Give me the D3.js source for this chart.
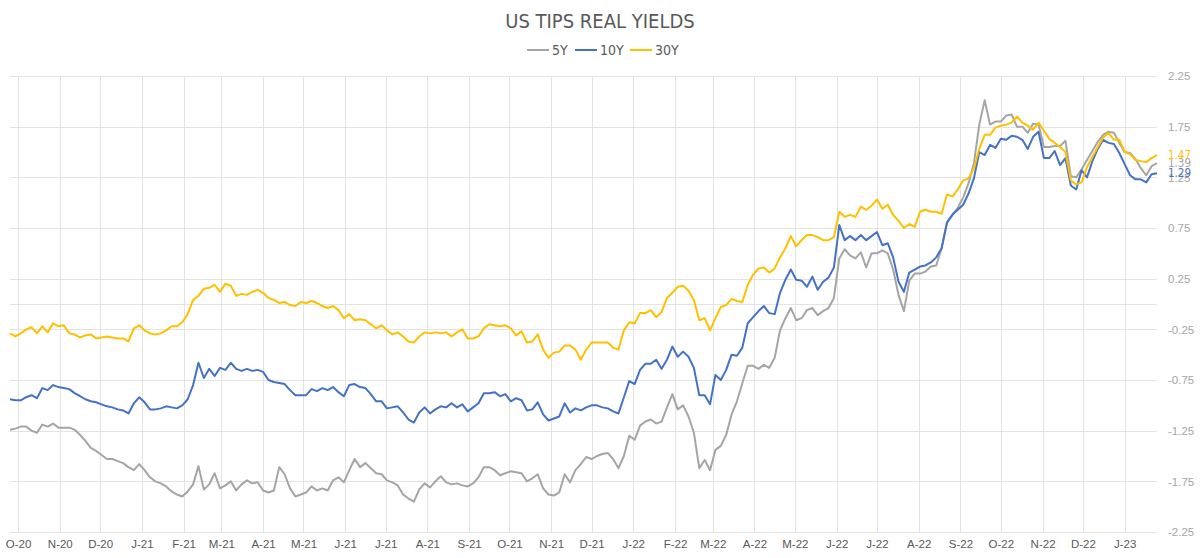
<!DOCTYPE html>
<html>
<head>
<meta charset="utf-8">
<script src="https://cdnjs.cloudflare.com/ajax/libs/d3/7.8.5/d3.min.js"></script>
<style>
  body { margin: 0; background: #fff; }
  svg { font-family: "Liberation Sans Narrow", "DejaVu Sans Condensed", Roboto, sans-serif; }
</style>
</head>
<body>
<svg id="chart" width="1200" height="558"></svg>
<script>
// one observation every 4 calendar days, starting 25 Sep 2020
var startDate = new Date(2020, 8, 25);
var stepDays = 4;

var series5Y = [
  -1.24,-1.23,-1.21,-1.21,-1.25,-1.27,-1.19,-1.21,-1.18,-1.22,
  -1.22,-1.22,-1.24,-1.29,-1.35,-1.42,-1.45,-1.49,-1.53,-1.53,
  -1.55,-1.57,-1.61,-1.64,-1.58,-1.64,-1.71,-1.75,-1.77,-1.80,
  -1.85,-1.88,-1.90,-1.85,-1.78,-1.60,-1.83,-1.78,-1.67,-1.82,
  -1.79,-1.75,-1.84,-1.78,-1.74,-1.77,-1.76,-1.84,-1.86,-1.84,
  -1.61,-1.68,-1.82,-1.90,-1.88,-1.86,-1.80,-1.84,-1.82,-1.84,
  -1.74,-1.71,-1.76,-1.64,-1.53,-1.61,-1.57,-1.62,-1.67,-1.68,
  -1.74,-1.76,-1.79,-1.88,-1.92,-1.95,-1.83,-1.77,-1.81,-1.75,
  -1.70,-1.76,-1.78,-1.77,-1.79,-1.80,-1.77,-1.71,-1.61,-1.61,
  -1.64,-1.69,-1.67,-1.65,-1.66,-1.67,-1.75,-1.72,-1.68,-1.82,
  -1.88,-1.89,-1.86,-1.68,-1.76,-1.64,-1.58,-1.51,-1.53,-1.50,
  -1.48,-1.47,-1.53,-1.62,-1.50,-1.30,-1.34,-1.20,-1.16,-1.14,
  -1.18,-1.16,-1.02,-0.89,-1.04,-1.00,-1.11,-1.27,-1.62,-1.54,
  -1.64,-1.44,-1.40,-1.29,-1.09,-0.96,-0.78,-0.61,-0.61,-0.64,
  -0.60,-0.63,-0.53,-0.26,-0.14,-0.04,-0.16,-0.14,-0.06,-0.04,
  -0.11,-0.07,-0.04,0.06,0.45,0.54,0.48,0.45,0.51,0.36,
  0.50,0.50,0.53,0.50,0.34,0.09,-0.07,0.23,0.30,0.30,
  0.32,0.37,0.38,0.55,0.81,0.88,0.95,1.05,1.19,1.39,
  1.77,2.01,1.77,1.80,1.80,1.86,1.87,1.75,1.75,1.69,
  1.78,1.77,1.55,1.55,1.56,1.56,1.61,1.26,1.25,1.33,
  1.42,1.51,1.60,1.67,1.70,1.69,1.59,1.50,1.49,1.43,
  1.34,1.27,1.36,1.39
];

var series10Y = [
  -0.94,-0.95,-0.95,-0.92,-0.90,-0.93,-0.83,-0.85,-0.80,-0.82,
  -0.83,-0.84,-0.88,-0.91,-0.94,-0.96,-0.97,-0.99,-1.01,-1.02,
  -1.04,-1.05,-1.08,-0.98,-0.92,-0.97,-1.04,-1.04,-1.03,-1.01,
  -1.02,-1.03,-1.00,-0.94,-0.80,-0.58,-0.73,-0.64,-0.71,-0.63,
  -0.65,-0.58,-0.64,-0.66,-0.64,-0.66,-0.65,-0.67,-0.75,-0.77,
  -0.78,-0.79,-0.85,-0.90,-0.90,-0.90,-0.84,-0.86,-0.83,-0.85,
  -0.82,-0.87,-0.91,-0.80,-0.79,-0.82,-0.83,-0.89,-0.96,-0.96,
  -1.03,-1.02,-1.01,-1.07,-1.14,-1.17,-1.07,-1.02,-1.08,-1.04,
  -1.01,-1.02,-0.98,-1.02,-0.99,-1.06,-1.02,-0.98,-0.88,-0.88,
  -0.87,-0.91,-0.89,-0.96,-0.93,-0.95,-1.05,-1.04,-0.97,-1.09,
  -1.15,-1.13,-1.11,-0.98,-1.07,-1.03,-1.05,-1.02,-1.00,-1.00,
  -1.02,-1.03,-1.06,-1.08,-0.92,-0.76,-0.79,-0.65,-0.59,-0.59,
  -0.55,-0.64,-0.55,-0.42,-0.52,-0.47,-0.52,-0.63,-0.90,-0.90,
  -0.99,-0.70,-0.75,-0.65,-0.50,-0.51,-0.43,-0.19,-0.13,-0.07,
  -0.02,-0.09,-0.10,0.11,0.24,0.34,0.24,0.23,0.17,0.27,
  0.14,0.22,0.26,0.36,0.78,0.63,0.67,0.63,0.68,0.63,
  0.67,0.71,0.58,0.60,0.46,0.22,0.12,0.31,0.34,0.37,
  0.38,0.41,0.46,0.55,0.80,0.88,0.93,0.98,1.09,1.24,
  1.50,1.47,1.57,1.54,1.63,1.62,1.66,1.65,1.62,1.53,
  1.65,1.70,1.44,1.44,1.51,1.37,1.44,1.17,1.13,1.32,
  1.25,1.41,1.53,1.62,1.59,1.58,1.49,1.38,1.27,1.23,
  1.23,1.20,1.28,1.29
];

var series30Y = [
  -0.29,-0.32,-0.29,-0.25,-0.23,-0.29,-0.22,-0.28,-0.19,-0.22,
  -0.21,-0.29,-0.30,-0.33,-0.31,-0.30,-0.34,-0.33,-0.32,-0.33,
  -0.34,-0.34,-0.37,-0.24,-0.21,-0.26,-0.29,-0.30,-0.29,-0.26,
  -0.22,-0.22,-0.18,-0.10,0.04,0.08,0.15,0.16,0.19,0.12,
  0.20,0.18,0.08,0.10,0.09,0.12,0.14,0.11,0.06,0.04,
  0.01,0.02,-0.01,-0.02,0.02,0.01,0.03,0.01,-0.02,-0.04,
  -0.02,-0.06,-0.14,-0.10,-0.16,-0.15,-0.16,-0.20,-0.24,-0.21,
  -0.26,-0.30,-0.28,-0.32,-0.37,-0.38,-0.32,-0.28,-0.29,-0.28,
  -0.29,-0.28,-0.32,-0.28,-0.25,-0.34,-0.34,-0.32,-0.24,-0.20,
  -0.21,-0.22,-0.21,-0.24,-0.31,-0.27,-0.38,-0.37,-0.30,-0.45,
  -0.53,-0.48,-0.47,-0.41,-0.41,-0.45,-0.55,-0.45,-0.38,-0.38,
  -0.38,-0.38,-0.43,-0.45,-0.26,-0.18,-0.19,-0.09,-0.09,-0.06,
  -0.13,-0.08,0.06,0.11,0.17,0.18,0.13,0.04,-0.16,-0.14,
  -0.26,-0.14,-0.03,-0.01,0.05,0.03,0.02,0.19,0.29,0.35,
  0.36,0.31,0.35,0.46,0.55,0.67,0.57,0.63,0.68,0.68,
  0.66,0.63,0.63,0.66,0.91,0.86,0.88,0.86,0.96,0.93,
  0.97,1.03,0.94,0.98,0.88,0.82,0.75,0.79,0.76,0.91,
  0.93,0.91,0.91,0.89,1.08,1.06,1.13,1.22,1.24,1.34,
  1.53,1.67,1.67,1.74,1.76,1.77,1.79,1.85,1.79,1.76,
  1.72,1.79,1.71,1.63,1.59,1.55,1.50,1.22,1.18,1.20,
  1.35,1.45,1.55,1.64,1.69,1.62,1.62,1.50,1.48,1.42,
  1.41,1.40,1.44,1.47
];

var seriesNames = ["5Y", "10Y", "30Y"];
var seriesColors = ["#a5a5a5", "#4472c4", "#ffc000"];
var yTicks = [2.25, 1.75, 1.25, 0.75, 0.25, -0.25, -0.75, -1.25, -1.75, -2.25];
var monthLetters = ["J","F","M","A","M","J","J","A","S","O","N","D"];

var allSeries = [series5Y, series10Y, series30Y];
var dates = d3.range(series5Y.length).map(function(i) { return d3.timeDay.offset(startDate, i * stepDays); });
var months = d3.timeMonth.range(new Date(2020, 9, 1), new Date(2023, 1, 1));

var plot = {left: 10, right: 1157, top: 76, bottom: 532};

var x = d3.scaleTime()
    .domain([dates[0], dates[dates.length - 1]])
    .range([plot.left, plot.right]);

var y = d3.scaleLinear()
    .domain([-2.25, 2.25])
    .range([plot.bottom, plot.top]);

var svg = d3.select("#chart");

// title + legend
svg.append("text")
    .attr("x", 600).attr("y", 28)
    .attr("text-anchor", "middle")
    .attr("font-size", 20)
    .attr("fill", "#595959")
    .text("US TIPS REAL YIELDS");

var legend = svg.append("g").attr("transform", "translate(527,50)");
var legX = [0, 48, 103];
seriesNames.forEach(function(name, i) {
  var g = legend.append("g").attr("transform", "translate(" + legX[i] + ",0)");
  g.append("line").attr("x1", 0).attr("x2", 22).attr("y1", 0).attr("y2", 0)
      .attr("stroke", seriesColors[i]).attr("stroke-width", 2);
  g.append("text").attr("x", 25).attr("y", 0).attr("dy", "0.35em")
      .attr("font-size", 14).attr("fill", "#595959").text(name);
});

// grid
var grid = svg.append("g").attr("stroke", "#e3e3e3").attr("stroke-width", 1);
grid.selectAll(".hgrid")
  .data(yTicks.concat([0]))
  .enter().append("line")
    .attr("x1", plot.left).attr("x2", plot.right)
    .attr("y1", function(d) { return Math.round(y(d)) + 0.5; })
    .attr("y2", function(d) { return Math.round(y(d)) + 0.5; });
grid.selectAll(".vgrid")
  .data(months)
  .enter().append("line")
    .attr("x1", function(d) { return Math.round(x(d)) + 0.5; })
    .attr("x2", function(d) { return Math.round(x(d)) + 0.5; })
    .attr("y1", plot.top).attr("y2", plot.bottom);

// axes
var yAxis = svg.append("g")
    .attr("transform", "translate(" + (plot.right + 3) + ",0)")
    .call(d3.axisRight(y).tickValues(yTicks).tickSize(0).tickPadding(8)
      .tickFormat(function(d) { return d.toFixed(2); }));
yAxis.select(".domain").remove();
yAxis.selectAll("text").attr("fill", "#a6a6a6").attr("font-size", 11.5)
    .attr("font-family", null);

var xAxis = svg.append("g")
    .attr("transform", "translate(0," + plot.bottom + ")")
    .call(d3.axisBottom(x).tickValues(months).tickSize(0).tickPadding(8)
      .tickFormat(function(d) { return monthLetters[d.getMonth()] + "-" + d3.timeFormat("%y")(d); }));
xAxis.select(".domain").remove();
xAxis.selectAll("text").attr("fill", "#595959").attr("font-size", 11.5)
    .attr("font-family", null);

// lines
var line = d3.line()
    .x(function(d, i) { return x(dates[i]); })
    .y(function(d) { return y(d); });

svg.selectAll(".series")
  .data(allSeries)
  .enter().append("path")
    .attr("class", "series")
    .attr("d", line)
    .attr("fill", "none")
    .attr("stroke", function(d, i) { return seriesColors[i]; })
    .attr("stroke-width", 2)
    .attr("stroke-linejoin", "round");

// last values at the right edge
svg.selectAll(".endlabel")
  .data(allSeries)
  .enter().append("text")
    .attr("x", plot.right + 11)
    .attr("y", function(d) { return y(d[d.length - 1]); })
    .attr("dy", "0.35em")
    .attr("font-size", 11.5)
    .attr("fill", function(d, i) { return seriesColors[i]; })
    .text(function(d) { return d[d.length - 1].toFixed(2); });
</script>
</body>
</html>
